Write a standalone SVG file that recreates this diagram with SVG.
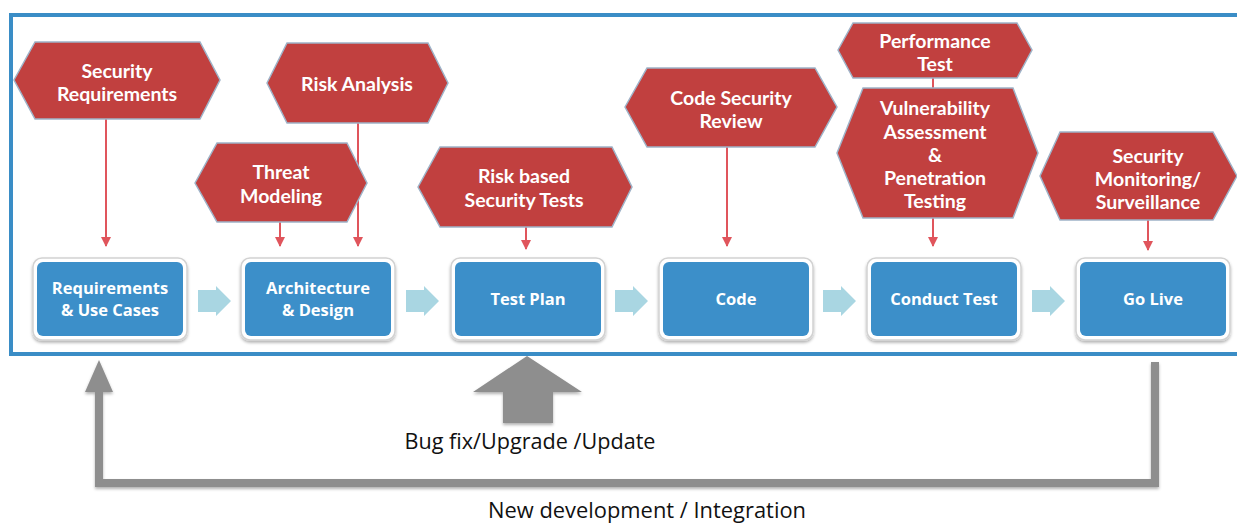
<svg xmlns="http://www.w3.org/2000/svg" width="1237" height="524" viewBox="0 0 1237 524">
<style>
.hex{fill:#c1403f;stroke:#9fb3c8;stroke-width:1.5}
.ht{font-family:Lato,"Open Sans",sans-serif;font-weight:700;font-size:19.5px;fill:#fff;text-anchor:middle}
.box{fill:#3c8fc9}
.boxo{fill:#fff;stroke:#d2d2d2;stroke-width:1.5}
.bt{font-family:"Open Sans",Lato,sans-serif;font-weight:700;font-size:16.5px;fill:#fff;text-anchor:middle}
.ra{stroke:#e0555c;stroke-width:2;fill:none}
.chev{fill:#a9d6e2}
.gray{fill:#8e8e8e}
.lbl{font-family:"Open Sans","Liberation Sans",sans-serif;font-size:21px;fill:#111;text-anchor:middle}
</style>
<defs>
<marker id="rh" viewBox="0 0 10 10" refX="9" refY="5" markerWidth="5" markerHeight="5" orient="auto" markerUnits="strokeWidth">
<path d="M0,0 L10,5 L0,10 z" fill="#e0555c"/>
</marker>
<filter id="sh" x="-10%" y="-10%" width="120%" height="130%">
<feDropShadow dx="0" dy="2" stdDeviation="1.5" flood-color="#000" flood-opacity="0.3"/>
</filter>
</defs>
<rect width="1237" height="524" fill="#fff"/>
<rect x="11" y="15" width="1240" height="339" fill="none" stroke="#3a8dc6" stroke-width="4"/>

<g id="connectors">
<line class="ra" x1="106" y1="119" x2="106" y2="246" marker-end="url(#rh)"/>
<line class="ra" x1="280" y1="222" x2="280" y2="246" marker-end="url(#rh)"/>
<line class="ra" x1="358" y1="123" x2="358" y2="246" marker-end="url(#rh)"/>
<line class="ra" x1="526" y1="227" x2="526" y2="249" marker-end="url(#rh)"/>
<line class="ra" x1="727" y1="147" x2="727" y2="246" marker-end="url(#rh)"/>
<line class="ra" x1="933" y1="78" x2="933" y2="88"/>
<line class="ra" x1="933" y1="218" x2="933" y2="246" marker-end="url(#rh)"/>
<line class="ra" x1="1148" y1="220" x2="1148" y2="250" marker-end="url(#rh)"/>
<path class="chev" d="M198,290 H216 V286 L231,301 L216,316 V312 H198 Z"/>
<path class="chev" d="M406,290 H424 V286 L439,301 L424,316 V312 H406 Z"/>
<path class="chev" d="M615,290 H633 V286 L648,301 L633,316 V312 H615 Z"/>
<path class="chev" d="M823,290 H841 V286 L856,301 L841,316 V312 H823 Z"/>
<path class="chev" d="M1032,290 H1050 V286 L1065,301 L1050,316 V312 H1032 Z"/>
<g filter="url(#sh)">
<path d="M1155,362 V483 H99 V390" fill="none" stroke="#8e8e8e" stroke-width="8" stroke-linejoin="miter"/>
<polygon class="gray" points="85,392 99,360 113,392"/>
<polygon class="gray" points="503,423 503,392 473,392 527,356 582,392 553,392 553,423"/>
</g>
</g>

<g id="hex-security-requirements"><polygon class="hex" points="14,80 35,42 200,42 220,80 200,119 35,119"/><text class="ht" x="117" y="78">Security</text><text class="ht" x="117" y="101">Requirements</text></g>
<g id="hex-risk-analysis"><polygon class="hex" points="267,83 287,43 428,43 448,83 428,123 287,123"/><text class="ht" x="357" y="91">Risk Analysis</text></g>
<g id="hex-threat-modeling"><polygon class="hex" points="195,183 217,143 347,143 367,183 347,222 217,222"/><text class="ht" x="281" y="179">Threat</text><text class="ht" x="281" y="203">Modeling</text></g>
<g id="hex-risk-based"><polygon class="hex" points="418,187 440,147 612,147 632,187 612,227 440,227"/><text class="ht" x="524" y="183">Risk based</text><text class="ht" x="524" y="207">Security Tests</text></g>
<g id="hex-code-review"><polygon class="hex" points="625,107 647,68 815,68 837,107 815,147 647,147"/><text class="ht" x="731" y="105">Code Security</text><text class="ht" x="731" y="128">Review</text></g>
<g id="hex-performance"><polygon class="hex" points="838,50 853,23 1017,23 1032,50 1017,78 853,78"/><text class="ht" x="935" y="48">Performance</text><text class="ht" x="935" y="71">Test</text></g>
<g id="hex-vapt"><polygon class="hex" points="837,153 863,88 1013,88 1038,153 1013,218 863,218"/><text class="ht" x="935" y="115">Vulnerability</text><text class="ht" x="935" y="139">Assessment</text><text class="ht" x="935" y="162">&amp;</text><text class="ht" x="935" y="185">Penetration</text><text class="ht" x="935" y="208">Testing</text></g>
<g id="hex-monitoring"><polygon class="hex" points="1040,176 1060,132 1213,132 1237,176 1213,220 1060,220"/><text class="ht" x="1148" y="163">Security</text><text class="ht" x="1148" y="186">Monitoring/</text><text class="ht" x="1148" y="209">Surveillance</text></g>

<g id="box-requirements"><rect class="boxo" x="33" y="258" width="154" height="82" rx="9" filter="url(#sh)"/><rect class="box" x="37" y="262" width="146" height="74" rx="6"/><text class="bt" x="110" y="294">Requirements</text><text class="bt" x="110" y="316">&amp; Use Cases</text></g>
<g id="box-architecture"><rect class="boxo" x="241" y="258" width="154" height="82" rx="9" filter="url(#sh)"/><rect class="box" x="245" y="262" width="146" height="74" rx="6"/><text class="bt" x="318" y="294">Architecture</text><text class="bt" x="318" y="316">&amp; Design</text></g>
<g id="box-testplan"><rect class="boxo" x="451" y="258" width="154" height="82" rx="9" filter="url(#sh)"/><rect class="box" x="455" y="262" width="146" height="74" rx="6"/><text class="bt" x="528" y="305">Test Plan</text></g>
<g id="box-code"><rect class="boxo" x="659" y="258" width="154" height="82" rx="9" filter="url(#sh)"/><rect class="box" x="663" y="262" width="146" height="74" rx="6"/><text class="bt" x="736" y="305">Code</text></g>
<g id="box-conduct"><rect class="boxo" x="867" y="258" width="154" height="82" rx="9" filter="url(#sh)"/><rect class="box" x="871" y="262" width="146" height="74" rx="6"/><text class="bt" x="944" y="305">Conduct Test</text></g>
<g id="box-golive"><rect class="boxo" x="1076" y="258" width="154" height="82" rx="9" filter="url(#sh)"/><rect class="box" x="1080" y="262" width="146" height="74" rx="6"/><text class="bt" x="1153" y="305">Go Live</text></g>

<g id="labels">
<text class="lbl" x="530" y="449" textLength="251" lengthAdjust="spacingAndGlyphs">Bug fix/Upgrade /Update</text>
<text class="lbl" x="647" y="518" textLength="318" lengthAdjust="spacingAndGlyphs">New development / Integration</text>
</g>
</svg>
